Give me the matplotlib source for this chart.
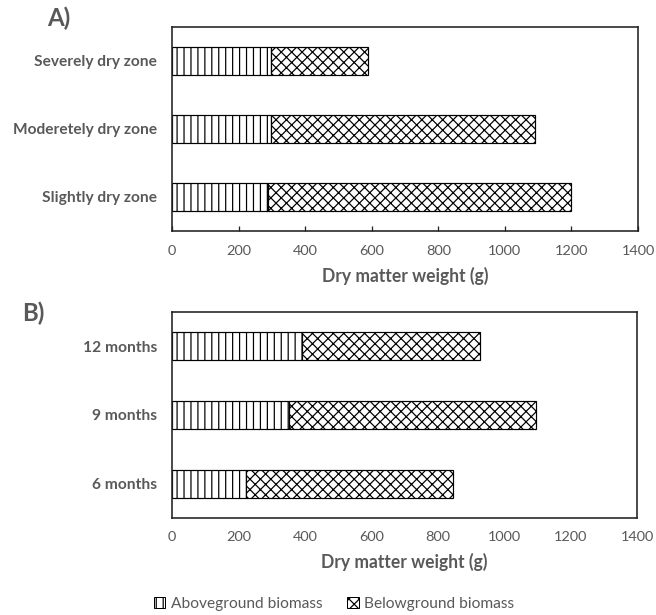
import matplotlib
matplotlib.use("Agg")
import matplotlib.pyplot as plt
from matplotlib.patches import Patch

# ---- data ----
zones = ["Slightly dry zone", "Moderetely dry zone", "Severely dry zone"]
zone_above = [289, 297, 297]
zone_below = [911, 795, 293]

ages = ["6 months", "9 months", "12 months"]
age_above = [222, 351, 391]
age_below = [625, 746, 537]

xticks = [0, 200, 400, 600, 800, 1000, 1200, 1400]
xlabel = "Dry matter weight (g)"
legend_labels = ["Aboveground biomass", "Belowground biomass"]

# ---- style ----
DPI = 125
W, H = 656, 615
def px(p):
    return p * 72.0 / DPI

plt.rcParams['font.family'] = ['Lato', 'DejaVu Sans']
plt.rcParams['hatch.linewidth'] = 0.7
GRAY = '#595959'
SPINE = '#222222'

fig = plt.figure(figsize=(W / DPI, H / DPI), dpi=DPI)

def panel(rect, cats, above, below, letter, letter_xy, ticks_in):
    ax = fig.add_axes(rect)
    y = list(range(len(cats)))
    ax.barh(y, above, height=0.41, color='white', edgecolor='black',
            hatch='|||', linewidth=px(1.2))
    ax.barh(y, below, left=above, height=0.41, color='white',
            edgecolor='black', hatch='xxxx', linewidth=px(1.2))
    ax.set_xlim(0, 1400)
    ax.set_ylim(-0.5, len(cats) - 0.5)
    ax.set_xticks(xticks)
    ax.set_xticklabels([str(t) for t in xticks], fontsize=px(14.5), color=GRAY)
    ax.set_yticks(y)
    ax.set_yticklabels(cats, fontsize=px(15.5), fontweight='bold', color=GRAY)
    ax.tick_params(axis='y', length=0, pad=px(15))
    if ticks_in:
        ax.tick_params(axis='x', direction='in', length=px(5), width=px(1.3),
                       color=SPINE, pad=px(14))
    else:
        ax.tick_params(axis='x', length=0, pad=px(13))
    ax.set_xlabel(xlabel, fontsize=px(17.5), fontweight='bold', color=GRAY,
                  labelpad=px(10))
    for s in ax.spines.values():
        s.set_color(SPINE)
        s.set_linewidth(px(1.6))
    fig.text(letter_xy[0] / W, 1 - letter_xy[1] / H, letter, fontsize=px(24),
             fontweight='bold', color=GRAY, ha='left', va='center')
    return ax

panel([172 / W, 1 - 230.7 / H, (638 - 172) / W, (230.7 - 26.7) / H],
      zones, zone_above, zone_below, "A)", (47, 18), True)
panel([172 / W, 1 - 518.3 / H, (637 - 172) / W, (518.3 - 311.7) / H],
      ages, age_above, age_below, "B)", (22, 313), False)

handles = [Patch(facecolor='white', edgecolor='black', hatch='|||', linewidth=px(1)),
           Patch(facecolor='white', edgecolor='black', hatch='xxxx', linewidth=px(1))]
fig.legend(handles, legend_labels, loc='center', bbox_to_anchor=(334 / W, 1 - 604 / H),
           ncol=2, frameon=False, fontsize=px(15.5), labelcolor=GRAY,
           handlelength=0.75, handleheight=0.75, handletextpad=0.35, columnspacing=1.6)

fig.savefig("out.png", dpi=DPI)
